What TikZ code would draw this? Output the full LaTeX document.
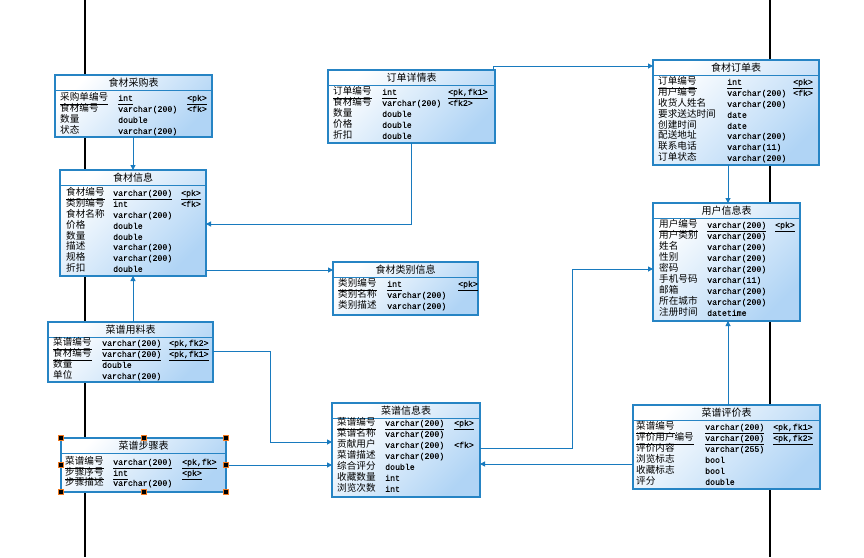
\documentclass[tikz,border=0pt]{standalone}
\usepackage{fontspec}
\newfontfamily\cjkfont{Noto Sans CJK SC}
\newfontfamily\monofont[FakeBold=0.3]{Liberation Mono}
\usetikzlibrary{arrows.meta}
\definecolor{tborder}{RGB}{38,132,196}
\definecolor{tfill}{RGB}{176,212,245}
\definecolor{conncol}{RGB}{24,122,190}
\definecolor{hdlorange}{RGB}{240,120,30}
\tikzset{
  tbl/.style={draw=tborder, line width=1.1pt, top color=white, bottom color=tfill,
    shading angle=45, inner sep=0, outer sep=0, anchor=north west},
  ttl/.style={font=\cjkfont\fontsize{10}{10}\selectfont, inner sep=0},
  cn/.style={anchor=west, inner sep=0, text height=7.5pt, text depth=2pt,
    font=\cjkfont\fontsize{9.6}{10}\selectfont},
  tt/.style={anchor=west, inner sep=0, text height=7.5pt, text depth=2pt,
    font=\monofont\fontsize{8.2}{8.2}\selectfont},
  conn/.style={draw=conncol, line width=1pt, -{Triangle[length=5pt,width=5pt]}},
  rail/.style={draw=black, line width=1.3pt},
  handle/.style={fill=black, draw=hdlorange, line width=0.6pt, inner sep=0,
    minimum size=5pt, outer sep=0}
}
% table frame: name, x1, y1, x2, y2, title
\newcommand\ertable[6]{%
  \node[tbl, minimum width={(#4-#2)*1pt}, minimum height={(#5-#3)*1pt}] (#1) at (#2,#3) {};
  \node[ttl] (#1-title) at ([yshift=-7.6pt]#1.north) {#6};
  \draw[tborder, line width=0.9pt] ([yshift=-15pt]#1.north west) -- ([yshift=-15pt]#1.north east);
}
% column positions of the current table
\newcommand\cols[3]{\def\cxa{#1}\def\cxb{#2}\def\cxc{#3}}
% one attribute row: y, name, type, key
\newcommand\erow[4]{%
  \node[cn] at (\cxa,#1) {#2};
  \node[tt] at (\cxb,#1) {#3};
  \node[tt] at (\cxc,#1) {#4};
}
% key attributes are underlined at a common depth
\newcommand\ul[1]{\underline{\smash{#1}\rule[-1.9pt]{0pt}{1pt}}}

\begin{document}
\begin{tikzpicture}[x=1pt,y=-1pt]
\useasboundingbox[fill=white] (0,0) rectangle (864,557);

% page rails
\coordinate (railAtop) at (85,0);   \coordinate (railAbot) at (85,557);
\coordinate (railBtop) at (770,0);  \coordinate (railBbot) at (770,557);
\draw[rail] (railAtop) -- (railAbot);
\draw[rail] (railBtop) -- (railBbot);

% 食材采购表
\ertable{caigou}{55}{75}{212}{137}{食材采购表}
\cols{60}{118}{187}
\erow{98}{\ul{采购单编号}}{\ul{int}}{\ul{<pk>}}
\erow{109}{食材编号}{varchar(200)}{<fk>}
\erow{120}{数量}{double}{}
\erow{131}{状态}{varchar(200)}{}

% 订单详情表
\ertable{ddxq}{328}{70}{495}{143}{订单详情表}
\cols{333}{382}{448}
\erow{92}{\ul{订单编号}}{\ul{int}}{\ul{<pk,fk1>}}
\erow{103}{食材编号}{varchar(200)}{<fk2>}
\erow{114}{数量}{double}{}
\erow{125}{价格}{double}{}
\erow{136}{折扣}{double}{}

% 食材订单表
\ertable{dingdan}{653}{60}{819}{165}{食材订单表}
\cols{658}{727}{793}
\erow{82}{\ul{订单编号}}{\ul{int}}{\ul{<pk>}}
\erow{93}{用户编号}{varchar(200)}{<fk>}
\erow{104}{收货人姓名}{varchar(200)}{}
\erow{115}{要求送达时间}{date}{}
\erow{126}{创建时间}{date}{}
\erow{136}{配送地址}{varchar(200)}{}
\erow{147}{联系电话}{varchar(11)}{}
\erow{158}{订单状态}{varchar(200)}{}

% 食材信息
\ertable{shicai}{60}{170}{206}{276}{食材信息}
\cols{66}{113}{181}
\erow{193}{\ul{食材编号}}{\ul{varchar(200)}}{\ul{<pk>}}
\erow{204}{类别编号}{int}{<fk>}
\erow{215}{食材名称}{varchar(200)}{}
\erow{226}{价格}{double}{}
\erow{237}{数量}{double}{}
\erow{247}{描述}{varchar(200)}{}
\erow{258}{规格}{varchar(200)}{}
\erow{269}{折扣}{double}{}

% 用户信息表
\ertable{yonghu}{653}{203}{800}{321}{用户信息表}
\cols{659}{707}{775}
\erow{225}{\ul{用户编号}}{\ul{varchar(200)}}{\ul{<pk>}}
\erow{236}{用户类别}{varchar(200)}{}
\erow{247}{姓名}{varchar(200)}{}
\erow{258}{性别}{varchar(200)}{}
\erow{269}{密码}{varchar(200)}{}
\erow{280}{手机号码}{varchar(11)}{}
\erow{291}{邮箱}{varchar(200)}{}
\erow{302}{所在城市}{varchar(200)}{}
\erow{313}{注册时间}{datetime}{}

% 食材类别信息
\ertable{leibie}{333}{262}{478}{315}{食材类别信息}
\cols{338}{387}{458}
\erow{284}{\ul{类别编号}}{\ul{int}}{\ul{<pk>}}
\erow{295}{类别名称}{varchar(200)}{}
\erow{306}{类别描述}{varchar(200)}{}

% 菜谱用料表
\ertable{yongliao}{48}{322}{213}{382}{菜谱用料表}
\cols{53}{102}{169}
\erow{343}{\ul{菜谱编号}}{\ul{varchar(200)}}{\ul{<pk,fk2>}}
\erow{354}{\ul{食材编号}}{\ul{varchar(200)}}{\ul{<pk,fk1>}}
\erow{365}{数量}{double}{}
\erow{376}{单位}{varchar(200)}{}

% 菜谱步骤表
\ertable{buzhou}{61}{438}{226}{492}{菜谱步骤表}
\cols{65}{113}{182}
\erow{462}{\ul{菜谱编号}}{\ul{varchar(200)}}{\ul{<pk,fk>}}
\erow{473}{\ul{步骤序号}}{\ul{int}}{\ul{<pk>}}
\erow{483}{步骤描述}{varchar(200)}{}

% 菜谱信息表
\ertable{xinxi}{332}{403}{480}{497}{菜谱信息表}
\cols{337}{385}{454}
\erow{423}{\ul{菜谱编号}}{\ul{varchar(200)}}{\ul{<pk>}}
\erow{434}{菜谱名称}{varchar(200)}{}
\erow{445}{贡献用户}{varchar(200)}{<fk>}
\erow{456}{菜谱描述}{varchar(200)}{}
\erow{467}{综合评分}{double}{}
\erow{478}{收藏数量}{int}{}
\erow{489}{浏览次数}{int}{}

% 菜谱评价表
\ertable{pingjia}{633}{405}{820}{489}{菜谱评价表}
\cols{636}{705}{773}
\erow{427}{\ul{菜谱编号}}{\ul{varchar(200)}}{\ul{<pk,fk1>}}
\erow{438}{\ul{评价用户编号}}{\ul{varchar(200)}}{\ul{<pk,fk2>}}
\erow{449}{评价内容}{varchar(255)}{}
\erow{460}{浏览标志}{bool}{}
\erow{471}{收藏标志}{bool}{}
\erow{482}{评分}{double}{}

% references
\draw[conn] (caigou.south -| 133,0) -- (shicai.north -| 133,0);
\draw[conn] (ddxq.south -| 411,0) |- (shicai.east |- 0,224);
\draw[conn] ([xshift=-2pt]ddxq.north east) |- (dingdan.west |- 0,66);
\draw[conn] (dingdan.south -| 728,0) -- (yonghu.north -| 728,0);
\draw[conn] (shicai.east |- 0,270) -- (leibie.west |- 0,270);
\draw[conn] (yongliao.north -| 133,0) -- (shicai.south -| 133,0);
\draw[conn] (yongliao.east |- 0,351) -- (270,351) -- (270,442) -- (xinxi.west |- 0,442);
\draw[conn] (buzhou.east |- 0,465) -- (xinxi.west |- 0,465);
\draw[conn] (pingjia.west |- 0,464) -- (xinxi.east |- 0,464);
\draw[conn] (xinxi.east |- 0,448) -- (572,448) -- (572,269) -- (yonghu.west |- 0,269);
\draw[conn] (pingjia.north -| 728,0) -- (yonghu.south -| 728,0);

% selection handles
\foreach \a/\n in {north west/h1, north/h2, north east/h3, west/h4, east/h5,
                   south west/h6, south/h7, south east/h8}
  \node[handle] (\n) at (buzhou.\a) {};
\end{tikzpicture}
\end{document}
